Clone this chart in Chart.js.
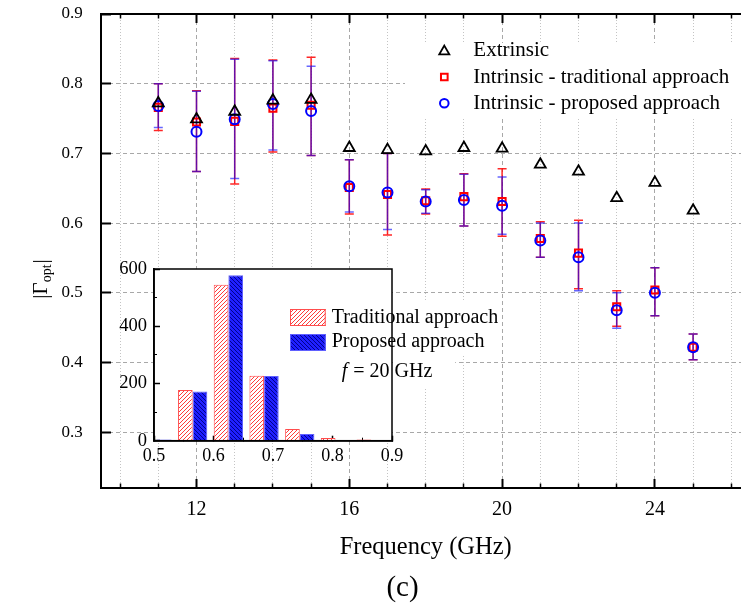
<!DOCTYPE html>
<html>
<head>
<meta charset="utf-8">
<script src="https://cdn.jsdelivr.net/npm/chart.js"></script>
<style>
html,body{margin:0;padding:0;background:#fff;overflow:hidden;}
#wrap{position:relative;width:741px;height:603px;overflow:hidden;background:#fff;}
#main{position:absolute;left:0;top:0;width:760px;height:603px;}
#inset{position:absolute;left:100px;top:255px;width:420px;height:225px;}
</style>
</head>
<body>
<div id="wrap">
<canvas id="main" width="760" height="603"></canvas>
<canvas id="inset" width="420" height="225"></canvas>
</div>
<script>
// ---------------- data: main plot ----------------
const freqs      = [11, 12, 13, 14, 15, 16, 17, 18, 19, 20, 21, 22, 23, 24, 25];
const extrinsic  = [0.772,0.749,0.760,0.776,0.777,0.708,0.705,0.703,0.708,0.707,0.684,0.674,0.636,0.658,0.618];
const tradMean   = [0.766,0.745,0.746,0.765,0.769,0.651,0.641,0.632,0.638,0.631,0.578,0.557,0.480,0.504,0.422];
const tradLow    = [0.733,0.674,0.656,0.702,0.697,0.613,0.583,0.613,0.596,0.581,0.551,0.506,0.452,0.467,0.404];
const tradHigh   = [0.800,0.790,0.836,0.834,0.838,0.691,0.700,0.649,0.671,0.678,0.602,0.604,0.503,0.536,0.441];
const propMean   = [0.768,0.731,0.749,0.771,0.761,0.653,0.644,0.631,0.633,0.625,0.575,0.551,0.475,0.500,0.422];
const propLow    = [0.737,0.674,0.664,0.705,0.697,0.616,0.591,0.614,0.596,0.584,0.551,0.503,0.449,0.467,0.404];
const propHigh   = [0.800,0.789,0.835,0.833,0.825,0.691,0.700,0.648,0.670,0.666,0.600,0.600,0.500,0.536,0.441];
const xMajorTicks = [12, 16, 20, 24];
const xMinorTicks = [10, 11, 13, 14, 15, 17, 18, 19, 21, 22, 23, 25, 26];
const yTicks      = [0.3, 0.4, 0.5, 0.6, 0.7, 0.8, 0.9];
const seriesLabels = ['Extrinsic', 'Intrinsic - traditional approach', 'Intrinsic - proposed approach'];

// ---------------- data: inset histogram (f = 20 GHz) ----------------
const binCenters  = [0.505, 0.565, 0.625, 0.685, 0.745, 0.805, 0.865];
const tradCounts  = [0, 177, 545, 227, 41, 9, 4];
const propCounts  = [4, 172, 578, 226, 23, 2, 1];
const insetXTicks = [0.5, 0.6, 0.7, 0.8, 0.9];
const insetXMinor = [0.55, 0.65, 0.75, 0.85];
const insetYTicks = [0, 200, 400, 600];
const insetYMinor = [100, 300, 500];
const insetLabels = ['Traditional approach', 'Proposed approach'];
const insetNote   = ['f', ' = 20 GHz'];

// ---------------- helpers ----------------
Chart.defaults.font.family = "'Liberation Serif','Times New Roman',serif";
Chart.defaults.color = '#000';
const SERIF = "'Liberation Serif','Times New Roman',serif";
const GRID_DASH = '#a8a8a8';
const GRID_DOT = '#c4c4c4';
function fixTicks(arr) { return function (scale) { scale.ticks = arr.map(v => ({ value: v })); }; }
function pts(xs, ys) { return xs.map((x, i) => ({ x: x, y: ys[i] })); }
function fitH(h) { return s => { s.height = h; s.paddingTop = s.paddingBottom = s.paddingLeft = s.paddingRight = 0; }; }
function fitW(w) { return s => { s.width = w; s.paddingTop = s.paddingBottom = s.paddingLeft = s.paddingRight = 0; }; }

function drawMarker(ctx, style, x, y, r, color, lw) {
  ctx.save();
  ctx.strokeStyle = color; ctx.lineWidth = lw; ctx.beginPath();
  if (style === 'triangle') {
    for (let k = 0; k < 3; k++) {
      const a = k * 2 * Math.PI / 3;
      const px = x + Math.sin(a) * r, py = y - Math.cos(a) * r;
      if (k === 0) ctx.moveTo(px, py); else ctx.lineTo(px, py);
    }
    ctx.closePath();
  } else if (style === 'rect') {
    const h = r * Math.SQRT1_2;
    ctx.rect(x - h, y - h, 2 * h, 2 * h);
  } else {
    ctx.arc(x, y, r, 0, 2 * Math.PI);
  }
  ctx.stroke();
  ctx.restore();
}

function makeHatch(bg, fg, forward, s, lw) {
  const c = document.createElement('canvas'); c.width = s; c.height = s;
  const g = c.getContext('2d');
  g.fillStyle = bg; g.fillRect(0, 0, s, s);
  g.strokeStyle = fg; g.lineWidth = lw; g.beginPath();
  if (forward) {
    g.moveTo(0, s); g.lineTo(s, 0);
    g.moveTo(-s / 2, s / 2); g.lineTo(s / 2, -s / 2);
    g.moveTo(s / 2, 1.5 * s); g.lineTo(1.5 * s, s / 2);
  } else {
    g.moveTo(0, 0); g.lineTo(s, s);
    g.moveTo(s / 2, -s / 2); g.lineTo(1.5 * s, s / 2);
    g.moveTo(-s / 2, s / 2); g.lineTo(s / 2, 1.5 * s);
  }
  g.stroke();
  return g.createPattern(c, 'repeat');
}

// ---------------- main chart plugins ----------------
const mainDecor = {
  id: 'mainDecor',
  beforeDatasetsDraw(chart) {
    const { ctx, chartArea, scales } = chart;
    const x = scales.x, y = scales.y;
    ctx.save();
    // white box behind legend
    ctx.fillStyle = '#fff';
    ctx.fillRect(405, 43, 400, 74);
    // error bars
    ctx.beginPath();
    ctx.rect(chartArea.left, chartArea.top, chartArea.right - chartArea.left, chartArea.bottom - chartArea.top);
    ctx.clip();
    const drawBars = (lo, hi, color, alpha) => {
      ctx.strokeStyle = color; ctx.globalAlpha = alpha; ctx.lineWidth = 1.5;
      freqs.forEach((f, i) => {
        const px = x.getPixelForValue(f);
        const y1 = y.getPixelForValue(lo[i]), y2 = y.getPixelForValue(hi[i]);
        ctx.beginPath();
        ctx.moveTo(px, y1); ctx.lineTo(px, y2);
        ctx.moveTo(px - 4.5, y1); ctx.lineTo(px + 4.5, y1);
        ctx.moveTo(px - 4.5, y2); ctx.lineTo(px + 4.5, y2);
        ctx.stroke();
      });
    };
    drawBars(tradLow, tradHigh, '#ff0000', 0.85);
    drawBars(propLow, propHigh, '#0000ff', 0.6);
    ctx.restore();
  },
  afterDraw(chart) {
    const ctx = chart.ctx;
    ctx.save();
    // legend
    const rows = [50, 77, 103.3];
    const sizes = [5.8, 4.7, 4.3];
    chart.data.datasets.forEach((ds, i) => {
      let cy = rows[i];
      if (ds.pointStyle === 'triangle') cy += sizes[i] / 4;
      drawMarker(ctx, ds.pointStyle, 444.3, cy, sizes[i], ds.pointBorderColor, ds.pointBorderWidth);
      ctx.fillStyle = '#000';
      ctx.font = '21px ' + SERIF;
      ctx.textAlign = 'left'; ctx.textBaseline = 'middle';
      ctx.fillText(ds.label, 473.3, rows[i]);
    });
    // y title |Γopt|
    ctx.translate(47, 279);
    ctx.rotate(-Math.PI / 2);
    ctx.fillStyle = '#000';
    ctx.textBaseline = 'alphabetic'; ctx.textAlign = 'left';
    const big = '21px ' + SERIF, small = '14px ' + SERIF;
    ctx.font = big; const wBar = ctx.measureText('|').width, wG = ctx.measureText('\u0393').width;
    ctx.font = small; const wSub = ctx.measureText('opt').width;
    const total = wBar * 2 + wG + wSub + 1;
    let u = -total / 2;
    ctx.font = big; ctx.fillText('|', u, 0); u += wBar;
    ctx.fillText('\u0393', u, 0); u += wG;
    ctx.font = small; ctx.fillText('opt', u, 4); u += wSub + 1;
    ctx.font = big; ctx.fillText('|', u, 0);
    ctx.restore();
    // panel label
    ctx.save();
    ctx.fillStyle = '#000';
    ctx.font = '29px ' + SERIF;
    ctx.textAlign = 'center'; ctx.textBaseline = 'middle';
    ctx.fillText('(c)', 402.5, 588);
    ctx.restore();
  }
};

new Chart(document.getElementById('main'), {
  type: 'scatter',
  data: {
    datasets: [
      { label: seriesLabels[0], data: pts(freqs, extrinsic), showLine: false,
        pointStyle: 'triangle', pointRadius: 6.3, borderColor: '#000', pointBorderColor: '#000',
        pointBackgroundColor: 'rgba(0,0,0,0)', backgroundColor: 'rgba(0,0,0,0)', pointBorderWidth: 1.8, order: 1 },
      { label: seriesLabels[1], data: pts(freqs, tradMean), showLine: false,
        pointStyle: 'rect', pointRadius: 5, borderColor: '#ff0000', pointBorderColor: '#ff0000',
        pointBackgroundColor: 'rgba(0,0,0,0)', backgroundColor: 'rgba(0,0,0,0)', pointBorderWidth: 2, order: 3 },
      { label: seriesLabels[2], data: pts(freqs, propMean), showLine: false,
        pointStyle: 'circle', pointRadius: 5, borderColor: '#0000ff', pointBorderColor: '#0000ff',
        pointBackgroundColor: 'rgba(0,0,0,0)', backgroundColor: 'rgba(0,0,0,0)', pointBorderWidth: 2, order: 2 }
    ]
  },
  options: {
    responsive: false, animation: false, events: [], devicePixelRatio: 1,
    layout: { padding: { left: 0, top: 0, right: 9.6, bottom: 0 } },
    plugins: { legend: { display: false }, tooltip: { enabled: false } },
    scales: {
      x: {
        type: 'linear', axis: 'x', position: 'bottom', weight: 1, min: 9.5, max: 26.5,
        afterBuildTicks: fixTicks(xMajorTicks), afterFit: fitH(115),
        ticks: { font: { size: 20 }, padding: 18.3, maxRotation: 0, minRotation: 0, autoSkip: false, callback: v => String(v) },
        grid: { color: GRID_DASH, lineWidth: 1, tickLength: -9, tickColor: '#000', tickWidth: 2 },
        border: { color: '#000', width: 2, dash: [4, 3] },
        title: { display: true, text: 'Frequency (GHz)', font: { size: 24.5 }, padding: { top: 0, bottom: 41 } }
      },
      xMinor: {
        type: 'linear', axis: 'x', position: 'bottom', weight: 0, min: 9.5, max: 26.5,
        afterBuildTicks: fixTicks(xMinorTicks), afterFit: fitH(0),
        ticks: { display: false },
        grid: { color: GRID_DOT, lineWidth: 1, tickLength: -4.5, tickColor: '#000', tickWidth: 1.5 },
        border: { color: '#000', width: 2, dash: [1, 2] }
      },
      xTop: {
        type: 'linear', axis: 'x', position: 'top', weight: 1, min: 9.5, max: 26.5,
        afterBuildTicks: fixTicks(xMajorTicks), afterFit: fitH(14),
        ticks: { display: false },
        grid: { drawOnChartArea: false, tickLength: -9, tickColor: '#000', tickWidth: 2 },
        border: { color: '#000', width: 2 }
      },
      xTopMinor: {
        type: 'linear', axis: 'x', position: 'top', weight: 0, min: 9.5, max: 26.5,
        afterBuildTicks: fixTicks(xMinorTicks), afterFit: fitH(0),
        ticks: { display: false },
        grid: { drawOnChartArea: false, tickLength: -4.5, tickColor: '#000', tickWidth: 1.5 },
        border: { color: '#000', width: 2 }
      },
      y: {
        type: 'linear', axis: 'y', position: 'left', min: 0.22, max: 0.9,
        afterBuildTicks: fixTicks(yTicks), afterFit: fitW(101),
        ticks: { font: { size: 17 }, padding: 28.3, callback: v => Number(v).toFixed(1) },
        grid: { color: c => (c.tick && c.tick.value >= 0.9) ? 'rgba(0,0,0,0)' : GRID_DASH,
                lineWidth: 1, tickLength: -10, tickColor: '#000', tickWidth: 2 },
        border: { color: '#000', width: 2, dash: [4, 3] }
      }
    }
  },
  plugins: [mainDecor]
});

// ---------------- inset chart ----------------
const redHatch = makeHatch('#ffffff', '#ff3b3b', true, 4, 1);
const blueHatch = makeHatch('#2020ff', '#00008c', false, 4, 1);

const insetDecor = {
  id: 'insetDecor',
  beforeDraw(chart) {
    const { ctx, chartArea: a } = chart;
    ctx.save();
    ctx.fillStyle = '#fff';
    ctx.fillRect(a.left, a.top, a.right - a.left, a.bottom - a.top);
    ctx.restore();
  },
  afterDraw(chart) {
    const { ctx, chartArea: a } = chart;
    ctx.save();
    ctx.strokeStyle = '#000'; ctx.lineWidth = 1.5;
    ctx.strokeRect(a.left, a.top, a.right - a.left, a.bottom - a.top);
    // white areas behind legend text outside the box
    ctx.fillStyle = '#fff';
    ctx.fillRect(a.right + 1.2, 45, 108, 54);
    ctx.fillRect(a.right + 1.2, 101, 62, 32);
    // legend swatches + text
    const ds = chart.data.datasets;
    const rowsY = [54, 79];
    const rowsT = [63, 87];
    ds.forEach((d, i) => {
      ctx.fillStyle = d.backgroundColor;
      ctx.fillRect(190, rowsY[i], 35.7, 17);
      ctx.strokeStyle = d.borderColor; ctx.lineWidth = 1;
      ctx.strokeRect(190.5, rowsY[i] + 0.5, 34.7, 16);
      ctx.fillStyle = '#000';
      ctx.font = '20px ' + SERIF;
      ctx.textAlign = 'left'; ctx.textBaseline = 'middle';
      ctx.fillText(d.label, 231.7, rowsT[i]);
    });
    // f = 20 GHz
    ctx.font = 'italic 20px ' + SERIF;
    ctx.fillText(insetNote[0], 241.7, 117);
    const wf = ctx.measureText(insetNote[0]).width;
    ctx.font = '20px ' + SERIF;
    ctx.fillText(insetNote[1], 241.7 + wf + 1, 117);
    ctx.restore();
  }
};

new Chart(document.getElementById('inset'), {
  type: 'bar',
  data: {
    datasets: [
      { label: insetLabels[0], data: pts(binCenters, tradCounts), backgroundColor: redHatch,
        borderColor: '#ff4d4d', borderWidth: 1, categoryPercentage: 0.82, barPercentage: 1 },
      { label: insetLabels[1], data: pts(binCenters, propCounts), backgroundColor: blueHatch,
        borderColor: '#6060ff', borderWidth: 1, categoryPercentage: 0.82, barPercentage: 1 }
    ]
  },
  options: {
    responsive: false, animation: false, events: [], devicePixelRatio: 1,
    layout: { padding: { left: 0, top: 14, right: 128, bottom: 0 } },
    plugins: { legend: { display: false }, tooltip: { enabled: false } },
    scales: {
      x: {
        type: 'linear', axis: 'x', position: 'bottom', weight: 1, min: 0.5, max: 0.9, offset: false,
        afterBuildTicks: fixTicks(insetXTicks), afterFit: fitH(39.3),
        ticks: { font: { size: 18 }, padding: 9.5, maxRotation: 0, minRotation: 0, autoSkip: false, callback: v => Number(v).toFixed(1) },
        grid: { offset: false, drawOnChartArea: false, tickLength: -5, tickColor: '#000', tickWidth: 1.5 },
        border: { color: '#000', width: 1.5 }
      },
      xm: {
        type: 'linear', axis: 'x', position: 'bottom', weight: 0, min: 0.5, max: 0.9, offset: false,
        afterBuildTicks: fixTicks(insetXMinor), afterFit: fitH(0),
        ticks: { display: false },
        grid: { offset: false, drawOnChartArea: false, tickLength: -3, tickColor: '#000', tickWidth: 1 },
        border: { color: '#000', width: 1.5 }
      },
      y: {
        type: 'linear', axis: 'y', position: 'left', weight: 1, min: 0, max: 600,
        afterBuildTicks: fixTicks(insetYTicks), afterFit: fitW(54),
        ticks: { font: { size: 18.5 }, padding: 13, callback: v => String(v) },
        grid: { drawOnChartArea: false, tickLength: -6, tickColor: '#000', tickWidth: 1.5 },
        border: { color: '#000', width: 1.5 }
      },
      ym: {
        type: 'linear', axis: 'y', position: 'left', weight: 0, min: 0, max: 600,
        afterBuildTicks: fixTicks(insetYMinor), afterFit: fitW(0),
        ticks: { display: false },
        grid: { drawOnChartArea: false, tickLength: -3, tickColor: '#000', tickWidth: 1 },
        border: { color: '#000', width: 1.5 }
      }
    }
  },
  plugins: [insetDecor]
});
</script>
</body>
</html>
